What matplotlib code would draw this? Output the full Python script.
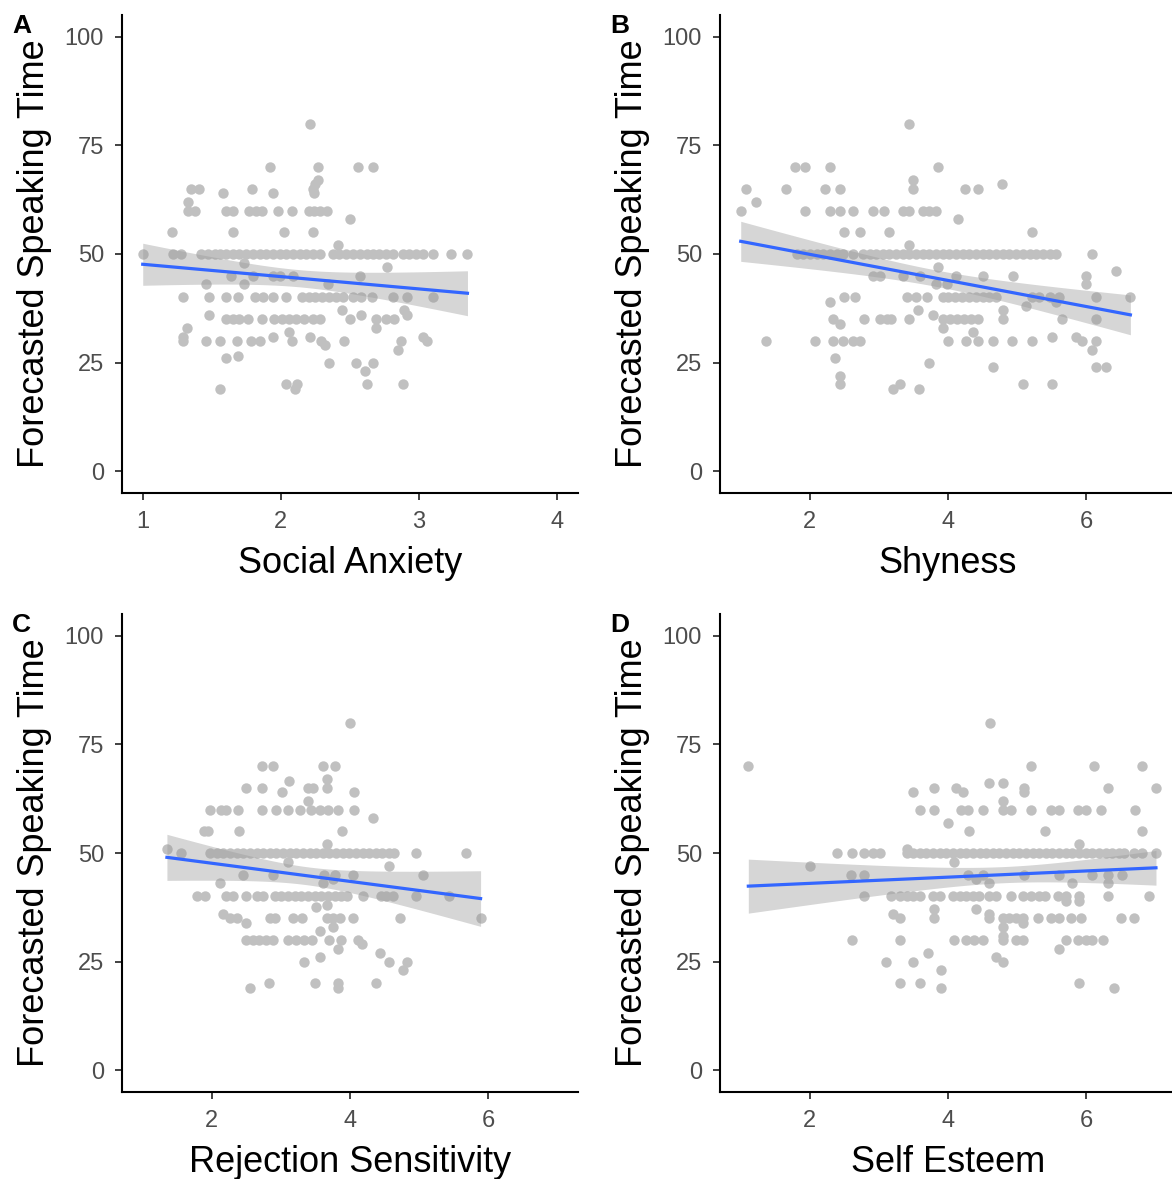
import numpy as np
import matplotlib
matplotlib.use("Agg")
import matplotlib.pyplot as plt

plt.rcParams["font.family"] = ["Liberation Sans", "DejaVu Sans"]

# ------------------ DATA ------------------
# each panel: y levels and the x positions of the points sitting on that level
a_levels = [80, 70, 67, 66, 65, 64, 62, 60, 58, 55, 52, 50, 48, 47, 45, 43, 40,
            37, 36, 35, 33, 32, 31, 30, 29, 28, 26.5, 26, 25, 23, 20, 19]
a_rows = [
    [2.21],
    [1.92, 2.27, 2.56, 2.67],
    [2.27],
    [2.25],
    [2.23, 1.35, 1.41, 1.79],
    [2.24, 1.58, 1.94],
    [1.33],
    [1.33, 1.38, 1.60, 1.65, 1.77, 1.82, 1.86, 1.98, 2.08, 2.20, 2.24, 2.28, 2.33],
    [2.50],
    [1.21, 1.65, 2.02, 2.23],
    [2.41],
    [1.00, 1.22, 1.28, 1.42, 1.47, 1.52, 1.56, 1.60, 1.65, 1.70, 1.75, 1.80, 1.85,
     1.89, 1.94, 1.99, 2.04, 2.09, 2.14, 2.18, 2.23, 2.28, 2.38, 2.42, 2.47, 2.52,
     2.57, 2.62, 2.67, 2.71, 2.76, 2.81, 2.88, 2.93, 2.98, 3.03, 3.10, 3.23, 3.35],
    [1.73],
    [2.77],
    [1.64, 1.80, 1.94, 1.99, 2.09, 2.57],
    [1.46, 1.73, 2.34],
    [1.29, 1.48, 1.60, 1.69, 1.81, 1.87, 1.94, 2.04, 2.15, 2.20, 2.25, 2.30, 2.35,
     2.40, 2.45, 2.52, 2.58, 2.66, 2.81, 2.91, 3.10],
    [2.44, 2.89],
    [2.58, 1.48, 2.91],
    [1.60, 1.65, 1.70, 1.76, 1.86, 1.95, 2.01, 2.06, 2.11, 2.17, 2.23, 2.28, 2.50,
     2.69, 2.76, 2.82],
    [1.32, 2.69],
    [2.06],
    [1.94, 1.29, 2.21, 3.03],
    [1.29, 1.46, 1.56, 1.68, 1.78, 1.85, 2.08, 2.29, 2.46, 2.87, 3.06],
    [2.32],
    [2.85],
    [1.69],
    [1.60],
    [2.35, 2.54, 2.67],
    [2.61],
    [2.04, 2.12, 2.62, 2.88],
    [1.56, 2.10],
]

b_levels = [80, 70, 67, 66, 65, 62, 60, 58, 55, 52, 50, 47, 46, 45, 43, 40, 39,
            38, 37, 36, 35, 34, 33, 32, 31, 30, 28, 26, 25, 24, 22, 20, 19]
b_rows = [
    [3.43],
    [1.78, 1.93, 2.29, 3.85],
    [3.49],
    [4.78],
    [3.49, 1.07, 1.65, 2.22, 2.43, 4.24, 4.43],
    [1.22],
    [1.00, 1.93, 2.29, 2.43, 2.63, 2.91, 3.08, 3.35, 3.44, 3.64, 3.73, 3.83],
    [4.14],
    [2.50, 2.72, 3.15, 5.21],
    [3.43],
    [1.81, 1.90, 2.00, 2.10, 2.19, 2.29, 2.39, 2.48, 2.63, 2.77, 2.87, 2.96, 3.06,
     3.15, 3.25, 3.35, 3.44, 3.54, 3.64, 3.73, 3.83, 3.93, 4.02, 4.12, 4.21, 4.31,
     4.41, 4.50, 4.60, 4.70, 4.79, 4.89, 4.99, 5.08, 5.18, 5.27, 5.37, 5.47, 5.56,
     6.08],
    [3.85],
    [6.43],
    [2.91, 3.01, 3.35, 3.59, 4.12, 4.50, 4.94, 6.00],
    [3.83, 3.98, 6.00],
    [2.50, 2.65, 3.40, 3.54, 3.69, 3.93, 4.00, 4.10, 4.20, 4.30, 4.40, 4.50, 4.60,
     4.70, 5.22, 5.32, 5.47, 5.61, 6.14, 6.64],
    [2.29, 5.56],
    [5.13],
    [3.56, 4.79],
    [3.78],
    [2.34, 2.78, 3.01, 3.11, 3.18, 3.43, 3.93, 4.03, 4.13, 4.23, 4.33, 4.43, 4.79,
     5.65, 6.14],
    [2.43],
    [3.93],
    [4.36],
    [5.50, 5.85],
    [1.36, 2.07, 2.34, 2.48, 2.63, 2.72, 4.00, 4.26, 4.43, 4.65, 4.93, 5.21, 5.94,
     6.14],
    [6.08],
    [2.36],
    [3.72],
    [4.65, 6.14, 6.29],
    [2.43],
    [2.43, 3.30, 5.08, 5.50],
    [3.20, 3.58],
]

c_levels = [80, 70, 67, 66.5, 65, 64, 62, 60, 58, 55, 52, 51, 50, 48, 47, 45, 44,
            43, 40, 38, 37.5, 36, 35, 34, 33, 32, 30, 29, 28, 27, 26, 25, 23, 20, 19]
c_rows = [
    [4.00],
    [2.73, 2.89, 3.61, 3.78],
    [3.67],
    [3.11],
    [3.67, 2.50, 2.73, 3.39, 3.46],
    [4.06, 3.01],
    [3.39],
    [1.97, 2.14, 2.21, 2.38, 2.73, 2.93, 3.10, 3.27, 3.44, 3.56, 3.68, 3.83, 4.06],
    [4.34],
    [1.88, 1.95, 2.39, 3.89],
    [3.66],
    [1.35],
    [1.56, 1.97, 2.07, 2.16, 2.26, 2.36, 2.45, 2.55, 2.65, 2.74, 2.84, 2.93, 3.03,
     3.13, 3.22, 3.32, 3.42, 3.51, 3.61, 3.70, 3.80, 3.90, 3.99, 4.09, 4.19, 4.28,
     4.38, 4.47, 4.57, 4.64, 4.95, 5.68],
    [3.10],
    [4.56],
    [2.45, 2.88, 3.63, 3.78, 4.04, 5.05],
    [3.75],
    [2.12, 3.61],
    [1.78, 1.90, 2.21, 2.31, 2.49, 2.65, 2.74, 2.91, 3.00, 3.10, 3.20, 3.29, 3.39,
     3.49, 3.58, 3.68, 3.78, 3.87, 3.95, 4.19, 4.45, 4.52, 4.62, 4.95, 5.44],
    [3.66],
    [3.51],
    [2.16],
    [2.26, 2.36, 2.84, 2.91, 3.18, 3.30, 3.66, 3.75, 3.85, 4.04, 4.73, 5.89],
    [2.50],
    [3.75],
    [3.56],
    [2.49, 2.60, 2.69, 2.79, 2.89, 3.10, 3.22, 3.34, 3.45, 3.70, 3.87, 4.11],
    [4.18],
    [3.83],
    [4.43],
    [3.56],
    [3.33, 4.56, 4.83],
    [4.77],
    [2.83, 3.50, 3.83, 4.38],
    [2.55, 3.83],
]

d_levels = [80, 70, 66, 65, 64, 62, 60, 57, 55, 52, 51, 50, 48, 47, 45, 44, 43,
            40, 39, 37, 36, 35, 34, 33, 31, 30, 28, 27, 26, 25, 23, 20, 19]
d_rows = [
    [4.61],
    [1.11, 5.20, 6.12, 6.81],
    [4.60, 4.80],
    [5.10, 4.11, 3.80, 6.31, 7.01],
    [5.10, 4.22, 3.50],
    [4.80],
    [3.60, 3.80, 4.19, 4.29, 4.50, 4.79, 4.91, 5.20, 5.49, 5.61, 5.88, 6.00, 6.21,
     6.71],
    [4.00],
    [4.30, 5.41, 6.81],
    [5.90],
    [3.40],
    [2.39, 2.61, 2.79, 2.91, 3.01, 3.40, 3.49, 3.59, 3.68, 3.78, 3.88, 3.97, 4.07,
     4.17, 4.26, 4.36, 4.46, 4.55, 4.65, 4.74, 4.84, 4.94, 5.03, 5.13, 5.23, 5.32,
     5.42, 5.51, 5.61, 5.71, 5.80, 5.90, 6.00, 6.09, 6.19, 6.28, 6.38, 6.48, 6.55,
     6.69, 6.81, 7.01],
    [4.09],
    [2.00],
    [2.60, 2.79, 4.29, 4.50, 5.10, 5.61, 6.09, 6.31, 6.52],
    [4.40],
    [4.60, 5.80, 6.31],
    [2.79, 3.18, 3.30, 3.40, 3.49, 3.59, 3.78, 3.88, 4.07, 4.17, 4.26, 4.36, 4.45,
     4.60, 4.70, 4.91, 5.08, 5.20, 5.32, 5.41, 5.59, 5.71, 5.90, 6.31, 6.91],
    [5.90, 5.71],
    [3.80, 4.40],
    [3.20, 4.60],
    [3.30, 3.80, 4.60, 4.79, 4.89, 4.99, 5.08, 5.30, 5.49, 5.61, 5.78, 5.92, 6.50,
     6.69],
    [5.08],
    [4.79],
    [4.79],
    [2.61, 3.30, 4.09, 4.26, 4.38, 4.50, 4.79, 4.99, 5.08, 5.71, 5.88, 6.00, 6.09,
     6.24],
    [5.60],
    [3.71],
    [4.69],
    [3.10, 3.50, 4.80],
    [3.90],
    [3.30, 3.60, 5.90],
    [3.90, 6.40],
]

panel_letters = ["A", "B", "C", "D"]
x_titles = ["Social Anxiety", "Shyness", "Rejection Sensitivity", "Self Esteem"]
x_ticks = [[1, 2, 3, 4], [2, 4, 6], [2, 4, 6], [2, 4, 6]]
x_lims = [(0.85, 4.15), (0.7, 7.3), (0.7, 7.3), (0.7, 7.3)]
y_ticks = [0, 25, 50, 75, 100]
y_title = "Forecasted Speaking Time"


def expand(levels, rows):
    xs = np.concatenate([np.array(r, dtype=float) for r in rows])
    ys = np.concatenate([np.full(len(r), lv, dtype=float) for lv, r in zip(levels, rows)])
    return xs, ys


def smooth(x, y):
    # linear fit with 95% confidence band, like geom_smooth(method="lm")
    n = len(x)
    b1, b0 = np.polyfit(x, y, 1)
    grid = np.linspace(x.min(), x.max(), 80)
    fit = b0 + b1 * grid
    resid = y - (b0 + b1 * x)
    s = np.sqrt(np.sum(resid ** 2) / (n - 2))
    sxx = np.sum((x - x.mean()) ** 2)
    se = s * np.sqrt(1.0 / n + (grid - x.mean()) ** 2 / sxx)
    return grid, fit, 1.97 * se


W, H = 1172, 1179
fig = plt.figure(figsize=(W / 100, H / 100), dpi=100)

# axes boxes in pixels: left, top
boxes = [(122, 15), (720, 15), (122, 614), (720, 614)]
ax_w, ax_h = 456, 478

data = [expand(a_levels, a_rows), expand(b_levels, b_rows),
        expand(c_levels, c_rows), expand(d_levels, d_rows)]

for i, (left, top) in enumerate(boxes):
    ax = fig.add_axes([left / W, 1 - (top + ax_h) / H, ax_w / W, ax_h / H])
    x, y = data[i]
    ax.scatter(x, y, s=56, color="#C0C0C0", linewidths=0, zorder=2)
    gx, gfit, gci = smooth(x, y)
    ax.fill_between(gx, gfit - gci, gfit + gci, color="#999999", alpha=0.4,
                    linewidth=0, zorder=3)
    ax.plot(gx, gfit, color="#3366FF", lw=2.3, zorder=4)

    ax.set_xlim(*x_lims[i])
    ax.set_ylim(-5, 105)
    ax.set_xticks(x_ticks[i])
    ax.set_yticks(y_ticks)
    for side in ["top", "right"]:
        ax.spines[side].set_visible(False)
    for side in ["left", "bottom"]:
        ax.spines[side].set_linewidth(1.5)
        ax.spines[side].set_color("black")
    ax.tick_params(length=5, width=1.3, color="#333333", labelcolor="#4D4D4D",
                   labelsize=17)
    ax.tick_params(axis="x", pad=8)
    ax.tick_params(axis="y", pad=8)
    ax.set_xlabel(x_titles[i], fontsize=26, labelpad=9)
    ax.set_ylabel(y_title, fontsize=26, labelpad=9)

    fig.text((left - 110) / W, 1 - (top - 1) / H, panel_letters[i], fontsize=19,
             fontweight="bold", va="top", ha="left")

fig.savefig("out.png", dpi=100)
